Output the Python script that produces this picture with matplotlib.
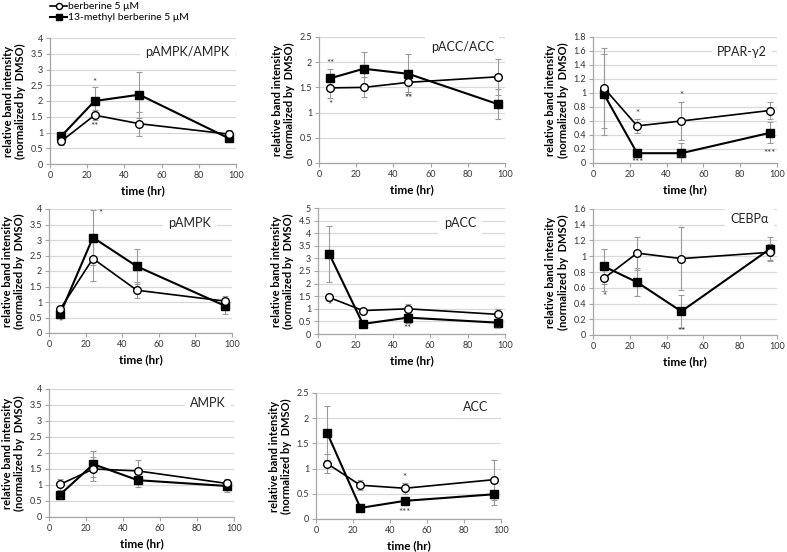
import numpy as np
import matplotlib
matplotlib.use("Agg")
import matplotlib.pyplot as plt
from matplotlib.ticker import FormatStrFormatter, MultipleLocator

plt.rcParams['font.family'] = ['Lato', 'DejaVu Sans']

time = [6, 24, 48, 96]

# pAMPK/AMPK
p1_ber = [0.72, 1.55, 1.28, 0.95]
p1_ber_err = [0.12, 0.15, 0.38, 0.12]
p1_met = [0.88, 2.0, 2.2, 0.82]
p1_met_err = [0.08, 0.45, 0.73, 0.08]
p1_stars = [(24, 2.6, '*'), (24, 1.18, '**')]

# pACC/ACC
p2_ber = [1.49, 1.5, 1.6, 1.71]
p2_ber_err = [0.21, 0.2, 0.2, 0.36]
p2_met = [1.68, 1.87, 1.77, 1.17]
p2_met_err = [0.18, 0.34, 0.4, 0.3]
p2_stars = [(6, 1.97, '**'), (6, 1.17, '*'), (48, 1.27, '**')]

# PPAR-g2
p3_ber = [1.07, 0.53, 0.6, 0.75]
p3_ber_err = [0.57, 0.1, 0.27, 0.12]
p3_met = [0.98, 0.14, 0.14, 0.43]
p3_met_err = [0.58, 0.04, 0.15, 0.15]
p3_stars = [(24, 0.71, '*'), (24, 0.01, '***'), (48, 0.97, '*'), (48, 0.05, '***'), (96, 0.13, '***')]

# pAMPK
p4_ber = [0.76, 2.4, 1.38, 1.03]
p4_ber_err = [0.11, 0.72, 0.25, 0.17]
p4_met = [0.6, 3.08, 2.15, 0.88]
p4_met_err = [0.1, 0.89, 0.57, 0.26]
p4_stars = [(28, 3.87, '*'), (6, 0.34, '*')]

# pACC
p5_ber = [1.45, 0.93, 1.0, 0.78]
p5_ber_err = [0.15, 0.05, 0.2, 0.2]
p5_met = [3.18, 0.4, 0.65, 0.45]
p5_met_err = [1.11, 0.05, 0.2, 0.15]
p5_stars = [(6, 1.13, '*'), (48, 0.2, '**'), (96, 0.13, '**')]

# CEBPa
p6_ber = [0.72, 1.04, 0.97, 1.05]
p6_ber_err = [0.16, 0.21, 0.4, 0.1]
p6_met = [0.87, 0.67, 0.3, 1.09]
p6_met_err = [0.22, 0.18, 0.21, 0.15]
p6_stars = [(6, 0.49, '*'), (48, 0.04, '**')]

# AMPK
p7_ber = [1.02, 1.5, 1.44, 1.05]
p7_ber_err = [0.18, 0.37, 0.34, 0.15]
p7_met = [0.7, 1.65, 1.15, 0.97]
p7_met_err = [0.1, 0.4, 0.2, 0.2]
p7_stars = [(6, 0.5, '*')]

# ACC
p8_ber = [1.1, 0.67, 0.61, 0.78]
p8_ber_err = [0.19, 0.1, 0.11, 0.4]
p8_met = [1.71, 0.22, 0.36, 0.49]
p8_met_err = [0.53, 0.03, 0.08, 0.22]
p8_stars = [(48, 0.83, '*'), (48, 0.13, '***')]

W, H = 787, 552
# panel boxes in pixels: left, right, top, bottom
panels = [
    ("pAMPK/AMPK", (50, 236, 38, 164), 4, 0.5, p1_ber, p1_ber_err, p1_met, p1_met_err, p1_stars, (0.74, 0.89)),
    ("pACC/ACC", (319, 505, 37, 163), 2.5, 0.5, p2_ber, p2_ber_err, p2_met, p2_met_err, p2_stars, (0.77, 0.92)),
    ("PPAR-γ2", (593, 777, 37, 163), 1.8, 0.2, p3_ber, p3_ber_err, p3_met, p3_met_err, p3_stars, (0.81, 0.88)),
    ("pAMPK", (49, 232, 209, 333), 4, 0.5, p4_ber, p4_ber_err, p4_met, p4_met_err, p4_stars, (0.77, 0.89)),
    ("pACC", (318, 505, 208, 334), 5, 0.5, p5_ber, p5_ber_err, p5_met, p5_met_err, p5_stars, (0.76, 0.88)),
    ("CEBPα", (593, 777, 209, 335), 1.6, 0.2, p6_ber, p6_ber_err, p6_met, p6_met_err, p6_stars, (0.85, 0.92)),
    ("AMPK", (49, 234, 389, 517), 4, 0.5, p7_ber, p7_ber_err, p7_met, p7_met_err, p7_stars, (0.86, 0.89)),
    ("ACC", (316, 501, 393, 519), 2.5, 0.5, p8_ber, p8_ber_err, p8_met, p8_met_err, p8_stars, (0.865, 0.89)),
]

fig = plt.figure(figsize=(W / 100, H / 100), dpi=100)
fig.patch.set_facecolor("white")

errc = "#9a9a9a"
gridc = "#d9d9d9"
axc = "#a6a6a6"

for name, (l, r, t, b), ymax, ystep, ber, ber_err, met, met_err, stars, tpos in panels:
    ax = fig.add_axes([l / W, 1 - b / H, (r - l) / W, (b - t) / H])
    ax.errorbar(time, met, yerr=met_err, fmt='none', ecolor=errc, elinewidth=0.8, capsize=2, capthick=0.8, zorder=2)
    ax.errorbar(time, ber, yerr=ber_err, fmt='none', ecolor=errc, elinewidth=0.8, capsize=2, capthick=0.8, zorder=2)
    ax.plot(time, met, color='black', lw=1.5, marker='s', ms=5.5, mfc='black', mec='black', zorder=3,
            label='13-methyl berberine 5 μM')
    ax.plot(time, ber, color='black', lw=1.2, marker='o', ms=5.5, mfc='white', mec='black', mew=1, zorder=4,
            label='berberine 5 μM')
    for sx, sy, s in stars:
        ax.text(sx, sy, s, ha='center', va='center', fontsize=7, color='#333333', zorder=5)
    ax.text(tpos[0], tpos[1], name, transform=ax.transAxes, ha='center', va='center', fontsize=9,
            color='#222222', zorder=6,
            bbox=dict(facecolor='white', edgecolor='none', pad=4))
    ax.set_xlim(0, 100)
    ax.set_ylim(0, ymax)
    ax.xaxis.set_major_locator(MultipleLocator(20))
    ax.yaxis.set_major_locator(MultipleLocator(ystep))
    ax.yaxis.set_major_formatter(FormatStrFormatter('%g'))
    ax.grid(axis='y', color=gridc, lw=0.9, zorder=0)
    ax.set_axisbelow(True)
    for sp in ['top', 'right']:
        ax.spines[sp].set_visible(False)
    for sp in ['left', 'bottom']:
        ax.spines[sp].set_color(axc)
        ax.spines[sp].set_linewidth(0.9)
    ax.tick_params(axis='both', labelsize=6.5, colors='#333333', length=3, width=0.8, color=axc, pad=2)
    ax.set_xlabel('time (hr)', fontsize=8.5, fontweight='bold', labelpad=4)
    ax.set_ylabel('relative band intensity\n(normalized by  DMSO)', fontsize=8, fontweight='bold', labelpad=3,
                  linespacing=1.2)

handles, labels = fig.axes[0].get_legend_handles_labels()
fig.legend(handles[::-1], labels[::-1], loc='upper left', bbox_to_anchor=(46 / W, 1 + 2 / H), frameon=False,
           fontsize=7.5, handlelength=1.6, handletextpad=0.1, labelspacing=0.15, borderaxespad=0.0,
           markerscale=0.8)

fig.savefig("out.png", dpi=100)
